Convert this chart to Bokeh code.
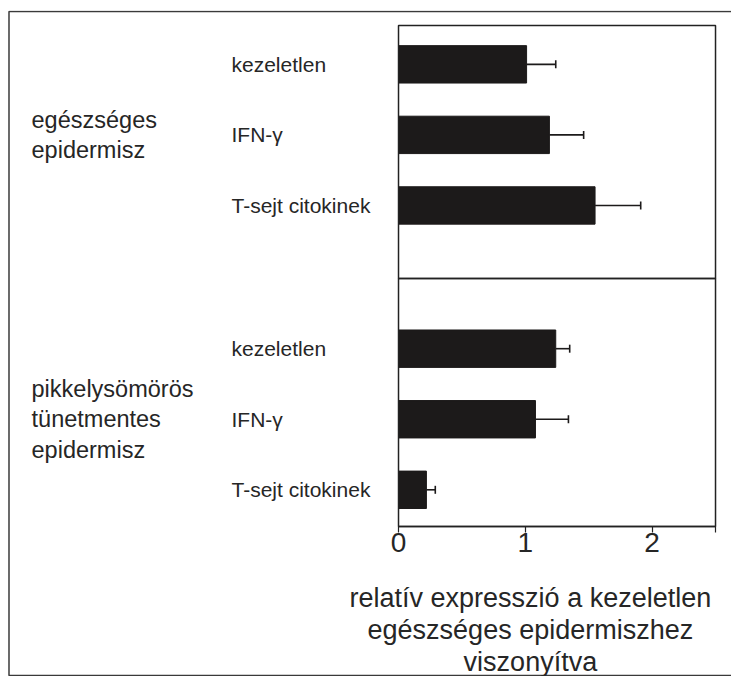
from bokeh.plotting import figure
from bokeh.models import (ColumnDataSource, Range1d, Label, Whisker, TeeHead,
                          FixedTicker, LinearAxis, BoxAnnotation)
from bokeh.embed import file_html
from bokeh.resources import INLINE

# ---- data ----
groups = ["egészséges\nepidermisz", "pikkelysömörös\ntünetmentes\nepidermisz"]
treatments = ["kezeletlen", "IFN-γ", "T-sejt citokinek"]
values_healthy = [1.01, 1.19, 1.55]
errors_healthy = [0.23, 0.27, 0.36]
values_psoriatic = [1.24, 1.08, 0.22]
errors_psoriatic = [0.11, 0.26, 0.07]
x_ticks = [0, 1, 2, 2.5]
x_max = 2.5
x_title = ["relatív expresszió a kezeletlen", "egészséges epidermiszhez", "viszonyítva"]

FONT = "Liberation Sans"
TXT = "#262626"
BAR = "#1c1a1a"
LINE = "#222222"

# y positions: lower group (psoriatic) at bottom, upper group (healthy) on top
GAP = 1.03
n = len(treatments)
y_top = 2 * n + GAP + 0.07
y_div = n + GAP / 2


def slot(gi, i):
    return 0.52 + gi * (n + GAP) + (n - 1 - i)


ys, vals, errs = [], [], []
for gi, (v, e) in enumerate([(values_psoriatic, errors_psoriatic), (values_healthy, errors_healthy)]):
    for i in range(n):
        ys.append(slot(gi, i))
        vals.append(v[i])
        errs.append(e[i])
upper = [v + e for v, e in zip(vals, errs)]
src = ColumnDataSource(dict(y=ys, value=vals, upper=upper))

p = figure(width=731, height=676, output_backend="svg", toolbar_location=None,
           x_range=Range1d(-3.0836, 2.626), y_range=Range1d(-2.126, 7.313),
           x_axis_location=None, y_axis_location=None,
           min_border_left=7, min_border_right=0, min_border_top=10, min_border_bottom=0)
p.outline_line_color = None
p.grid.visible = False

# outer frame (right side runs off the page, as in the original)
p.add_layout(BoxAnnotation(left=-3.0718, right=3.0, bottom=-2.112, top=7.299,
                           fill_alpha=0, line_color="#3a3a3a", line_alpha=1, line_width=1.5))

# inner plotting boxes: lower and upper panel
p.add_layout(BoxAnnotation(left=0, right=x_max, bottom=0, top=y_div, fill_alpha=0,
                           line_color=LINE, line_alpha=1, line_width=1.5))
p.add_layout(BoxAnnotation(left=0, right=x_max, bottom=y_div, top=y_top, fill_alpha=0,
                           line_color=LINE, line_alpha=1, line_width=1.5))

p.hbar(y="y", left=0, right="value", height=0.53, source=src,
       fill_color=BAR, line_color=BAR)
p.add_layout(Whisker(source=src, base="y", lower="value", upper="upper", dimension="width",
                     line_color=BAR, line_width=1.6, lower_head=None,
                     upper_head=TeeHead(size=8, line_color=BAR, line_width=1.6)))

ax = LinearAxis(fixed_location=0, bounds=(0, x_max))
ax.ticker = FixedTicker(ticks=x_ticks)
ax.major_label_overrides = {2.5: ""}
ax.major_label_text_font = FONT
ax.major_label_text_font_size = "28px"
ax.major_label_text_color = TXT
ax.major_tick_in = 0
ax.major_tick_out = 6
ax.minor_tick_out = 0
ax.minor_tick_in = 0
ax.axis_line_color = LINE
ax.axis_line_width = 1.5
ax.major_tick_line_width = 1.2
ax.major_tick_line_color = LINE
ax.major_label_standoff = 1
p.add_layout(ax, "below")

# category labels
for gi, g in enumerate([groups[1], groups[0]]):
    for i, t in enumerate(treatments):
        p.add_layout(Label(x=-1.317, y=slot(gi, i), text=t, text_font=FONT, text_font_size="21px",
                           text_color=TXT, text_align="left", text_baseline="middle"))
    lines = g.split("\n")
    yc = slot(gi, 1)
    step = 0.435
    for k, line in enumerate(lines):
        yy = yc + ((len(lines) - 1) / 2 - k) * step
        p.add_layout(Label(x=-2.894, y=yy, text=line, text_font=FONT, text_font_size="23.5px",
                           text_color=TXT, text_align="left", text_baseline="middle"))

# x-axis title
for k, line in enumerate(x_title):
    p.add_layout(Label(x=1.04, y=-1.02 - k * 0.447, text=line, text_font=FONT, text_font_size="27px",
                       text_color=TXT, text_align="center", text_baseline="middle"))

open("out.html", "w").write(file_html(p, INLINE))
